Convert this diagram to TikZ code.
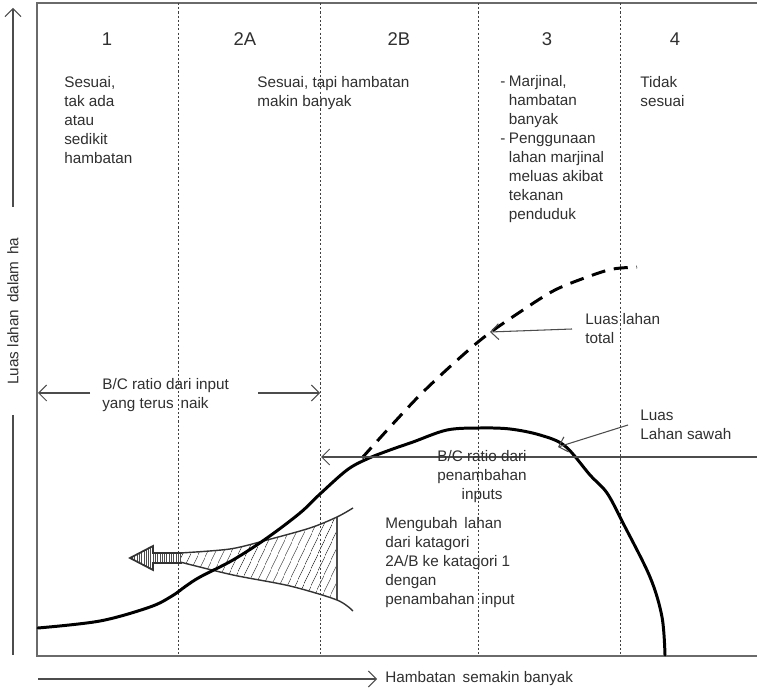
\documentclass[tikz,border=0pt]{standalone}
\usepackage{fontspec}
\setmainfont{Liberation Sans}
\usetikzlibrary{arrows.meta,patterns.meta}
\definecolor{txtc}{HTML}{303030}
\definecolor{framec}{HTML}{6A6A6A}
\begin{document}
\begin{tikzpicture}[x=0.02cm,y=-0.02cm,
  txt/.style={inner sep=0pt, text=txtc, font=\fontsize{8.7}{10.8}\selectfont, align=left},
  num/.style={inner sep=0pt, text=txtc, font=\fontsize{10.5}{12}\selectfont},
  framel/.style={draw=framec, line width=1pt},
  zone/.style={draw=black!75, line width=0.5pt, dash pattern=on 1.2pt off 1.2pt},
  guide/.style={draw=black!70, line width=0.6pt},
  barb/.style={-{Straight Barb[length=4.5pt,width=9pt]}},
  curve/.style={draw=black, line width=1.7pt, line join=round, line cap=round},
]
\useasboundingbox[fill=white] (0,0) rectangle (757,688);

% frame
\coordinate (ftl) at (37,3);
\coordinate (ftr) at (757,3);
\coordinate (fbl) at (37,656);
\coordinate (fbr) at (757,656);
\draw[framel] (ftr) -- (ftl) -- (fbl) -- (fbr);

% zone dividers
\foreach \x/\n in {178/a,320/b,478/c,620/d}{
  \coordinate (zt\n) at (\x,3);
  \coordinate (zb\n) at (\x,656);
  \draw[zone] (zt\n) -- (zb\n);
}

% axes
\coordinate (ya1) at (13,207);
\coordinate (ya2) at (13,8);
\coordinate (ya3) at (13,415);
\coordinate (ya4) at (13,655);
\draw[guide,barb] (ya1) -- (ya2);
\draw[guide] (ya3) -- (ya4);
\node[txt, rotate=90, anchor=center] (ylab) at (13,311) {Luas lahan\, dalam\, ha};

\coordinate (xa1) at (38,679);
\coordinate (xa2) at (377,679);
\draw[guide,barb] (xa1) -- (xa2);
\node[txt, anchor=west] (xlab) at (385,679) {Hambatan\, semakin banyak};

% zone labels
\node[num] (n1) at (107,39) {1};
\node[num] (n2a) at (245,39) {2A};
\node[num] (n2b) at (399,39) {2B};
\node[num] (n3) at (547,39) {3};
\node[num] (n4) at (675,39) {4};

\node[txt, anchor=north west] (t1) at (64,76) {Sesuai,\\tak ada\\atau\\sedikit\\hambatan};
\node[txt, anchor=north west] (t2) at (257,76) {Sesuai, tapi hambatan\\makin banyak};
\node[txt, anchor=north west] (t3) at (500,73)
  {\begin{tabular}{@{}l@{\hspace{2pt}}l@{}}
   - & Marjinal,\\ & hambatan\\ & banyak\\
   - & Penggunaan\\ & lahan marjinal\\ & meluas akibat\\ & tekanan\\ & penduduk
   \end{tabular}};
\node[txt, anchor=north west] (t4) at (640,76) {Tidak\\sesuai};

% B/C ratio from input
\node[txt, anchor=north west] (bc1) at (102,378) {B/C ratio dari input\\yang terus\, naik};
\coordinate (bcl1) at (90,393);
\coordinate (bcl2) at (38,393);
\coordinate (bcr1) at (258,393);
\coordinate (bcr2) at (320,393);
\draw[guide,barb] (bcl1) -- (bcl2);
\draw[guide,barb] (bcr1) -- (bcr2);

% hatched wedge
\begin{scope}
\fill[pattern={Lines[angle=65,distance=4pt,line width=0.45pt]}, pattern color=black!75]
  plot[smooth] coordinates {(180,553) (230,549) (267,540) (310,528) (337,517)}
  -- plot[smooth] coordinates {(337,600) (290,586) (233,575) (180,562)} -- cycle;
\end{scope}
\coordinate (wu) at (337,517);
\coordinate (wl) at (337,600);
\draw[guide, line width=0.7pt] (wu) -- (wl);
\draw[draw=black!80, line width=0.8pt]
  plot[smooth] coordinates {(180,553) (230,549) (267,540) (310,528) (337,517) (353,508)};
\draw[draw=black!80, line width=0.8pt]
  plot[smooth] coordinates {(180,562) (233,575) (290,586) (337,600) (353,611)};
\draw[draw=black!80, line width=1pt, line join=miter,
      pattern={Lines[angle=90,distance=1.3pt,line width=0.4pt]}, pattern color=black!70]
  (182,553) -- (153,553) -- (153,546) -- (130,558) -- (153,570) -- (153,563) -- (182,563);

% dashed total curve
\draw[curve, line cap=butt, dash pattern=on 8pt off 5pt]
  plot[smooth] coordinates {(362,458) (420,395) (478,342) (520,312) (555,290) (590,276) (613,269) (637,267)};

% solid sawah curve
\draw[curve]
  plot[smooth, tension=0.55] coordinates {(38,628) (100,621) (150,607) (172,596) (186,586) (200,577) (233,560)
   (267,538) (300,513) (320,494) (347,470) (367,459) (390,450) (413,442) (447,430) (480,428)
   (510,429) (540,435) (565,446) (590,475) (607,493) (623,523) (650,577) (662,617) (665,655)};

% B/C ratio from additional inputs
\coordinate (hr) at (757,457);
\coordinate (hl) at (321,457);
\draw[guide,barb] (hr) -- (hl);
\node[txt, anchor=north, align=center] (bc2) at (482,450) {B/C ratio dari\\penambahan\\inputs};

% labels with arrows
\node[txt, anchor=north west] (tot) at (585,313) {Luas lahan\\total};
\coordinate (tota) at (572,329);
\coordinate (totb) at (490,332);
\draw[guide,barb] (tota) -- (totb);

\node[txt, anchor=north west] (saw) at (640,410) {Luas\\Lahan sawah};
\coordinate (sawa) at (628,425);
\coordinate (sawb) at (558,447);
\draw[guide,barb] (sawa) -- (sawb);

\node[txt, anchor=north west] (conv) at (385,517)
  {Mengubah\, lahan\\dari katagori\\2A/B ke katagori 1\\dengan\\penambahan\, input};

\end{tikzpicture}
\end{document}
